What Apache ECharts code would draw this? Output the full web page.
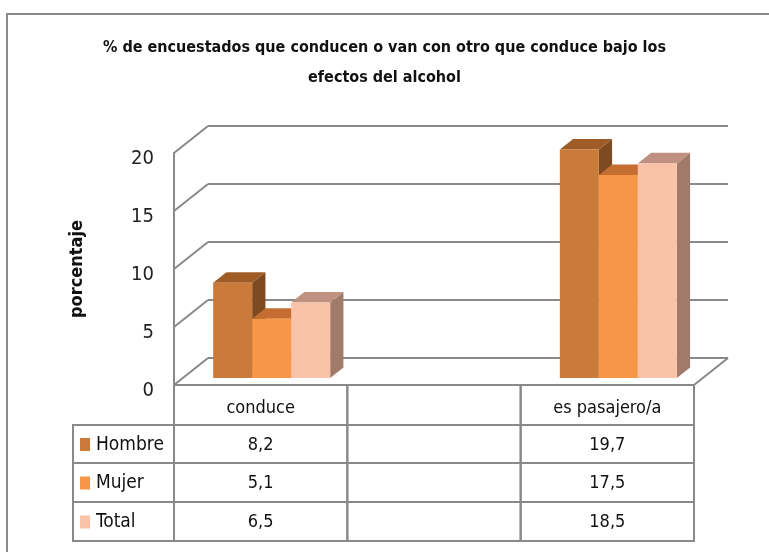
<!DOCTYPE html>
<html>
<head>
<meta charset="utf-8">
<script src="https://cdn.jsdelivr.net/npm/echarts@6/dist/echarts.min.js"></script>
<style>
  html, body { margin: 0; padding: 0; background: #fff; }
  #chart { width: 769px; height: 552px; }
</style>
</head>
<body>
<div id="chart"></div>
<script>
// datos
var categorias = ['conduce', '', 'es pasajero/a'];
var hombre = [8.2, null, 19.7];
var mujer = [5.1, null, 17.5];
var total = [6.5, null, 18.5];
var nombres = ['Hombre', 'Mujer', 'Total'];
var ticksY = [0, 5, 10, 15, 20];

var FF = '"Liberation Sans Narrow", "DejaVu Sans Condensed", Arial, sans-serif';
var GRIS = '#898989';
// profundidad 3D (pared del fondo)
var DX = 34, DY = -27;

var colores = [
	{front: '#CB7B39', top: '#A05C26', side: '#7E4A1F'},
	{front: '#F79646', top: '#C46F31', side: '#B86A2E'},
	{front: '#FAC3A9', top: '#C09080', side: '#A27A69'}
];
var valores = [hombre, mujer, total];

function fmt(v) {
	return v == null ? '' : v.toFixed(1).replace('.', ',');
}

function barrasData(arr) {
	var d = [];
	for (var i = 0; i < arr.length; i++) {
		if (arr[i] != null) d.push([i, arr[i]]);
	}
	return d;
}

function renderBarra(si) {
	return function (params, api) {
		var cat = api.value(0), v = api.value(1);
		var base = api.coord([cat, 0]);
		var tope = api.coord([cat, v]);
		var band = api.size([1, 0])[0];
		var bw = band * 0.225;
		var x0 = base[0] - 1.5 * bw + si * bw + 11;
		var yb = base[1] + DY * 0.26, yt = tope[1] + DY * 0.26;
		var ddx = DX * 0.39, ddy = DY * 0.39;
		var c = colores[si];
		return {
			type: 'group',
			children: [
				{type: 'polygon', shape: {points: [[x0 + bw, yb], [x0 + bw + ddx, yb + ddy], [x0 + bw + ddx, yt + ddy], [x0 + bw, yt]]}, style: {fill: c.side}},
				{type: 'polygon', shape: {points: [[x0, yt], [x0 + ddx, yt + ddy], [x0 + bw + ddx, yt + ddy], [x0 + bw, yt]]}, style: {fill: c.top}},
				{type: 'rect', shape: {x: x0, y: yt, width: bw, height: yb - yt}, style: {fill: c.front}}
			]
		};
	};
}

function renderRejilla(params, api) {
	var cs = params.coordSys;
	var v = api.value(1);
	var y = api.coord([0, v])[1];
	var x0 = cs.x, x1 = cs.x + cs.width;
	var ls = {stroke: GRIS, lineWidth: 2};
	var hijos = [
		{type: 'line', shape: {x1: x0, y1: y, x2: x0 + DX, y2: y + DY}, style: ls},
		{type: 'line', shape: {x1: x0 + DX, y1: y + DY, x2: x1 + DX, y2: y + DY}, style: ls}
	];
	if (v === 0) {
		hijos.push({type: 'line', shape: {x1: x1, y1: y, x2: x1 + DX, y2: y + DY}, style: ls});
	}
	return {type: 'group', children: hijos};
}

// tabla de datos bajo el eje
var filasY = [0, 40, 78, 117, 156];
var celdas = [];
for (var c = 0; c < categorias.length; c++) {
	celdas.push({cat: c, fila: 0, texto: categorias[c]});
	for (var s = 0; s < nombres.length; s++) {
		celdas.push({cat: c, fila: s + 1, texto: fmt(valores[s][c])});
	}
}

function renderCelda(params, api) {
	var cel = celdas[params.dataIndex];
	var cs = params.coordSys;
	var base = api.coord([cel.cat, 0]);
	var band = api.size([1, 0])[0];
	var y0 = cs.y + cs.height;
	var top = y0 + filasY[cel.fila], bot = y0 + filasY[cel.fila + 1];
	return {
		type: 'group',
		children: [
			{type: 'rect', shape: {x: base[0] - band / 2, y: top, width: band, height: bot - top}, style: {fill: 'none', stroke: GRIS, lineWidth: 2}},
			{type: 'text', style: {text: cel.texto, x: base[0], y: (top + bot) / 2 + (cel.fila === 0 ? 3 : 1), textAlign: 'center', textVerticalAlign: 'middle', align: 'center', verticalAlign: 'middle', fontSize: 18, fontFamily: FF, fill: '#111'}}
		]
	};
}

function renderEtiqueta(params, api) {
	var cs = params.coordSys;
	var fila = api.value(1);
	var y0 = cs.y + cs.height;
	var top = y0 + filasY[fila], bot = y0 + filasY[fila + 1];
	var x0 = cs.x - 101;
	var cm = (top + bot) / 2;
	return {
		type: 'group',
		children: [
			{type: 'rect', shape: {x: x0, y: top, width: 101, height: bot - top}, style: {fill: 'none', stroke: GRIS, lineWidth: 2}},
			{type: 'rect', shape: {x: x0 + 7, y: cm - 6, width: 10, height: 13}, style: {fill: colores[fila - 1].front}},
			{type: 'text', style: {text: nombres[fila - 1], x: x0 + 23, y: cm + 1, textAlign: 'left', textVerticalAlign: 'middle', align: 'left', verticalAlign: 'middle', fontSize: 19, fontFamily: FF, fill: '#111'}}
		]
	};
}

var chart = echarts.init(document.getElementById('chart'));

var series = [
	{
		type: 'custom', name: 'rejilla', clip: false, silent: true,
		data: ticksY.map(function (v) { return [0, v]; }),
		renderItem: renderRejilla, z: 1
	}
];
for (var k = 0; k < nombres.length; k++) {
	series.push({
		type: 'custom', name: nombres[k], clip: false,
		data: barrasData(valores[k]),
		renderItem: renderBarra(k), z: 2
	});
}
series.push({
	type: 'custom', name: 'tabla', clip: false, silent: true,
	data: celdas.map(function (d) { return [d.cat, d.fila]; }),
	renderItem: renderCelda, z: 3
});
series.push({
	type: 'custom', name: 'etiquetas', clip: false, silent: true,
	data: [[0, 1], [0, 2], [0, 3]],
	renderItem: renderEtiqueta, z: 3
});

var option = {
	animation: false,
	backgroundColor: '#fff',
	title: {
		text: '% de encuestados que conducen o van con otro que conduce bajo los\nefectos del alcohol',
		left: 'center',
		top: 28,
		textStyle: {fontSize: 16, fontWeight: 'bold', fontFamily: FF, color: '#111', lineHeight: 30}
	},
	graphic: [
		{type: 'rect', shape: {x: 7, y: 14, width: 800, height: 600}, style: {fill: 'none', stroke: '#8a8a8a', lineWidth: 2}, silent: true}
	],
	grid: {left: 174, right: 75, top: 153, bottom: 167},
	xAxis: {
		type: 'category',
		data: categorias,
		axisLine: {lineStyle: {color: GRIS, width: 2}},
		axisTick: {show: false},
		axisLabel: {show: false},
		splitLine: {show: false}
	},
	yAxis: {
		type: 'value',
		min: 0, max: 20, interval: 5,
		name: 'porcentaje',
		nameLocation: 'middle',
		nameRotate: 90,
		nameGap: 88,
		nameTextStyle: {fontSize: 18, fontWeight: 'bold', fontFamily: FF, color: '#111'},
		axisLine: {show: true, lineStyle: {color: GRIS, width: 2}},
		axisTick: {show: false},
		axisLabel: {fontSize: 20, fontFamily: FF, color: '#222', margin: 20, verticalAlign: 'top', lineHeight: 12},
		splitLine: {show: false}
	},
	series: series
};
chart.setOption(option);
</script>
</body>
</html>
